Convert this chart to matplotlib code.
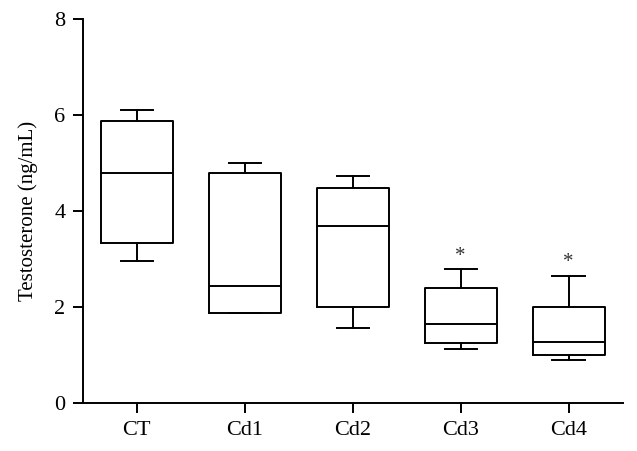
import matplotlib
matplotlib.use("Agg")
import matplotlib.pyplot as plt

plt.rcParams['font.family'] = ['Liberation Serif', 'DejaVu Serif']

groups = ["CT", "Cd1", "Cd2", "Cd3", "Cd4"]
whislo = [2.97, 1.87, 1.57, 1.12, 0.90]
q1 = [3.33, 1.88, 2.00, 1.25, 1.00]
med = [4.79, 2.43, 3.69, 1.64, 1.28]
q3 = [5.87, 4.80, 4.48, 2.40, 2.00]
whishi = [6.10, 4.99, 4.73, 2.80, 2.65]
# significance marks (group index, y)
star_pos = [3, 4]
star_y = [3.05, 2.92]

stats = []
for i in range(len(groups)):
    stats.append({"label": groups[i], "whislo": whislo[i], "q1": q1[i], "med": med[i],
                  "q3": q3[i], "whishi": whishi[i], "fliers": []})

fig = plt.figure(figsize=(6.37, 4.51), dpi=100)
ax = fig.add_axes([0.13, 0.1058, 0.8475, 0.8527])

lw = 1.4
ax.bxp(stats, positions=range(1, 6), widths=0.665, showfliers=False,
       boxprops=dict(color="black", linewidth=lw),
       medianprops=dict(color="black", linewidth=lw),
       whiskerprops=dict(color="black", linewidth=lw),
       capprops=dict(color="black", linewidth=lw),
       capwidths=0.3)

for p, y in zip(star_pos, star_y):
    ax.text(p + 1, y, "*", ha="center", va="center", fontsize=15, color="#333333")

ax.set_xlim(0.5, 5.5)
ax.set_ylim(0, 8)
ax.set_yticks([0, 2, 4, 6, 8])
ax.set_xticks(range(1, 6))
ax.set_xticklabels(groups)
ax.spines["top"].set_visible(False)
ax.spines["right"].set_visible(False)
ax.spines["left"].set_linewidth(lw)
ax.spines["bottom"].set_linewidth(lw)
ax.tick_params(direction="out", length=7.5, width=lw, labelsize=16, pad=5)
ax.set_ylabel("Testosterone (ng/mL)", fontsize=15, labelpad=12)

fig.savefig("out.png", dpi=100)
